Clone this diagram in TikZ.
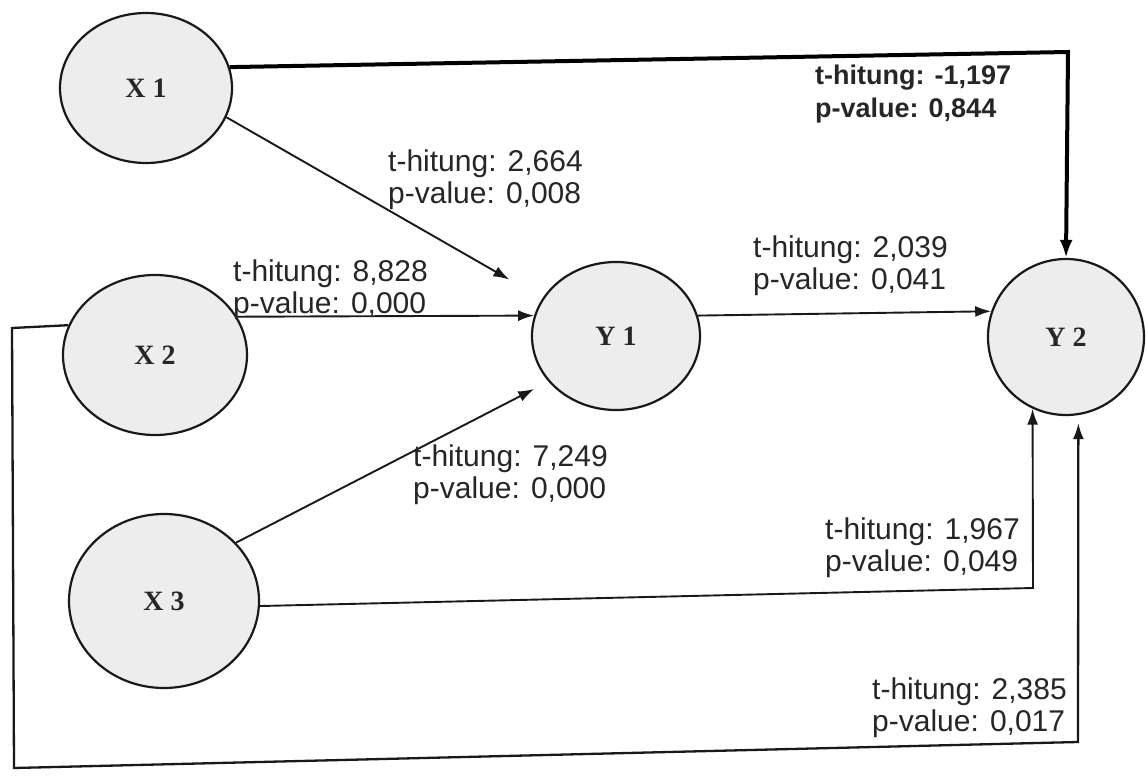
\documentclass[tikz,border=0pt]{standalone}
\usepackage{fontspec}
\setmainfont{Liberation Sans}
\newfontfamily\serifb{Liberation Serif}
\usetikzlibrary{shapes.geometric,arrows.meta}
\begin{document}
\begin{tikzpicture}[x=1pt,y=-1pt,
  latent/.style={ellipse, draw=black!90, line width=2.2pt, fill=black!7,
    font=\serifb\bfseries\fontsize{28}{28}\selectfont, text=black!85, inner sep=0pt},
  conn/.style={draw=black!90, line width=1.9pt, -{Latex[length=16pt,width=11pt]}},
  thickconn/.style={draw=black, line width=4pt, -{Latex[length=18pt,width=13pt]}},
  lab/.style={font=\fontsize{30}{32}\selectfont, align=left, inner sep=0pt, anchor=north west, text=black!85},
  blab/.style={font=\bfseries\fontsize{27}{33}\selectfont, align=left, inner sep=0pt, anchor=north west, text=black!85}]
\useasboundingbox[fill=white] (0,0) rectangle (1146,781);

% nodes
\node[latent, minimum width=172pt, minimum height=150pt] (x1) at (146,88) {X 1};
\node[latent, minimum width=184pt, minimum height=160pt] (x2) at (155,355) {X 2};
\node[latent, minimum width=190pt, minimum height=174pt] (x3) at (164,601) {X 3};
\node[latent, minimum width=168pt, minimum height=148pt] (y1) at (616,336) {Y 1};
\node[latent, minimum width=156pt, minimum height=156pt] (y2) at (1066,337) {Y 2};

% corner coordinates
\coordinate (c1) at (1068,52);
\coordinate (c2) at (1033,588);
\coordinate (c3) at (12,328);
\coordinate (c4) at (14,768);
\coordinate (c5) at (1078,742);

% connectors
\draw[thickconn] (x1.14) -- (c1) -- (y2.north);
\draw[conn, shorten >=38pt] (x1.-20) -- (y1.153);
\draw[conn] (x2.25) -- (y1.166);
\draw[conn, shorten >=16pt] (x3.39) -- (y1.-146);
\draw[conn] (y1.14) -- (y2.161);
\draw[conn] (x3.-3) -- (c2) -- (y2.-115);
\draw[conn, line width=2.3pt, shorten >=8pt] (x2.161) -- (c3) -- (c4) -- (c5) -- (y2.-81);

% labels
\node[blab] (l0) at (815,65) {t-hitung: -1,197\\p-value: 0,844};
\node[lab] (l1) at (388,150) {t-hitung: 2,664\\p-value: 0,008};
\node[lab] (l2) at (233,260) {t-hitung: 8,828\\p-value: 0,000};
\node[lab] (l3) at (413,445) {t-hitung: 7,249\\p-value: 0,000};
\node[lab] (l4) at (753,236) {t-hitung: 2,039\\p-value: 0,041};
\node[lab] (l5) at (825,518) {t-hitung: 1,967\\p-value: 0,049};
\node[lab] (l6) at (872,678) {t-hitung: 2,385\\p-value: 0,017};
\end{tikzpicture}
\end{document}
